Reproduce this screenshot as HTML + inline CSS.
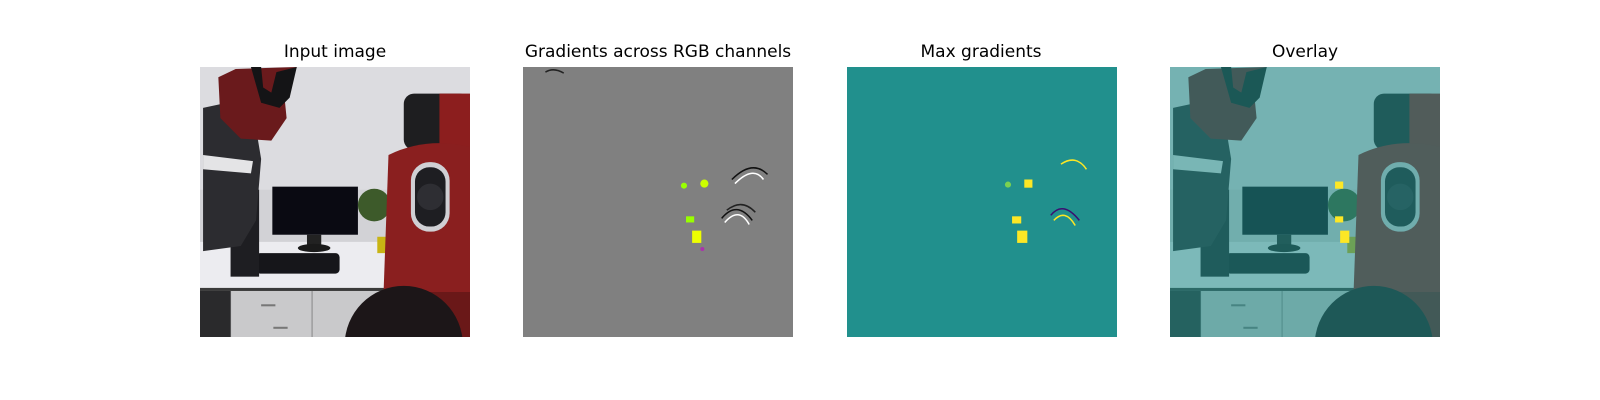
<!DOCTYPE html>
<html><head><meta charset="utf-8"><style>
body{margin:0;background:#fff;width:1600px;height:400px;overflow:hidden;position:relative;font-family:"Liberation Sans","DejaVu Sans",sans-serif}
.t{position:absolute;top:42px;width:340px;text-align:center;font-size:17px;color:#000;font-family:"DejaVu Sans","Liberation Sans",sans-serif}
svg.p{position:absolute;top:67px;width:270px;height:270px}
</style></head><body>
<svg width="0" height="0" style="position:absolute">
<defs>
<g id="scene">
<rect width="265" height="264" fill="#dcdce0"/>
<rect y="120" width="265" height="55" fill="#d2d2d6"/>
<rect y="171" width="265" height="46" fill="#ececf0"/>
<rect y="216" width="265" height="3" fill="#3a3a3a"/>
<rect y="219" width="265" height="45" fill="#c9c9cb"/>
<line x1="30" y1="219" x2="30" y2="264" stroke="#888"/>
<line x1="110" y1="219" x2="110" y2="264" stroke="#888"/>
<rect x="60" y="232" width="14" height="2" fill="#777"/><rect x="72" y="254" width="14" height="2" fill="#777"/>
<rect x="0" y="219" width="30" height="45" fill="#2a2a2c"/>
<rect x="71" y="117" width="84" height="47" fill="#0a0a12"/>
<rect x="105" y="164" width="14" height="10" fill="#222"/>
<ellipse cx="112" cy="177" rx="16" ry="4" fill="#1a1a1a"/>
<rect x="55" y="182" width="82" height="20" rx="4" fill="#16161a"/>
<rect x="30" y="120" width="28" height="85" fill="#1e1e22"/>
<path d="M3 40 L50 30 L60 90 L55 150 L40 175 L3 180 Z" fill="#2c2c30"/>
<path d="M3 86 L52 92 L50 104 L3 100 Z" fill="#e4e4e6"/>
<path d="M18 10 L35 2 L95 0 L82 20 L85 50 L70 72 L40 70 L20 50 Z" fill="#6a1a1c"/>
<path d="M50 0 L60 0 L62 20 L70 25 L75 5 L95 0 L88 30 L78 40 L60 35 Z" fill="#141416"/>
<circle cx="171" cy="135" r="16" fill="#3d5a2a"/>
<rect x="174" y="166" width="11" height="16" fill="#c8b414"/>
<rect x="200" y="26" width="65" height="55" rx="10" fill="#1e1e20"/>
<rect x="235" y="26" width="30" height="60" fill="#8c1e1e"/>
<path d="M185 86 Q222 68 265 78 L265 225 L180 225 Z" fill="#8a1f1f"/>
<rect x="207" y="93" width="38" height="68" rx="18" fill="#d0d0d4"/>
<rect x="211" y="98" width="30" height="58" rx="14" fill="#1e1e22"/>
<circle cx="226" cy="127" r="13" fill="#2e2e33"/>
<rect x="225" y="220" width="40" height="44" fill="#6a1818"/>
<circle cx="200" cy="272" r="58" fill="#1c1618"/>
</g>
</defs>
</svg>

<div class="t" style="left:165px">Input image</div>
<svg class="p" style="left:200px" viewBox="0 0 265 264" preserveAspectRatio="none"><use href="#scene"/></svg>

<div class="t" style="left:488px">Gradients across RGB channels</div>
<svg class="p" style="left:523px" viewBox="0 0 265 264" preserveAspectRatio="none">
<rect width="265" height="264" fill="#808080"/>
<g fill="none" stroke-width="1.5">
<path d="M205 110 Q225 90 240 105" stroke="#111"/><path d="M208 114 Q226 96 236 110" stroke="#fff"/>
<path d="M195 148 Q210 130 225 150" stroke="#111"/><path d="M198 152 Q212 136 222 154" stroke="#fff"/>
<path d="M200 140 Q215 128 228 142" stroke="#222"/>
<path d="M22 5 Q30 0 40 6" stroke="#222"/>
</g>
<circle cx="158" cy="116" r="3" fill="#9f0"/><circle cx="178" cy="114" r="4" fill="#cf0"/>
<rect x="160" y="146" width="8" height="6" fill="#9f0"/>
<rect x="166" y="160" width="9" height="12" fill="#ef0"/><circle cx="176" cy="178" r="2" fill="#a3a"/>
</svg>

<div class="t" style="left:811px">Max gradients</div>
<svg class="p" style="left:847px" viewBox="0 0 265 264" preserveAspectRatio="none">
<rect width="265" height="264" fill="#21908d"/>
<g fill="none" stroke-width="1.5">
<path d="M210 95 Q225 85 235 100" stroke="#fde725"/><path d="M200 145 Q212 130 228 150" stroke="#3b0f70"/>
<path d="M203 150 Q214 138 224 155" stroke="#fde725"/>
</g>
<circle cx="158" cy="115" r="3" fill="#7ad151"/><rect x="174" y="110" width="8" height="8" fill="#fde725"/>
<rect x="162" y="146" width="9" height="7" fill="#fde725"/>
<rect x="167" y="160" width="10" height="12" fill="#fde725"/>
</svg>

<div class="t" style="left:1135px">Overlay</div>
<svg class="p" style="left:1170px" viewBox="0 0 265 264" preserveAspectRatio="none">
<use href="#scene"/>
<rect width="265" height="264" fill="#21908d" opacity="0.55"/>
<rect x="162" y="112" width="8" height="7" fill="#fde725"/><rect x="162" y="146" width="8" height="6" fill="#fde725"/>
<rect x="167" y="160" width="9" height="12" fill="#fde725"/>
</svg>
</body></html>
